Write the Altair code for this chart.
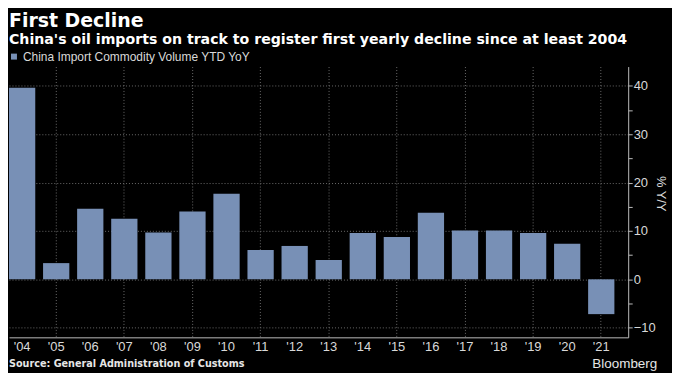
import altair as alt
import pandas as pd

# ---- data ----
years = ["2004", "2005", "2006", "2007", "2008", "2009", "2010", "2011", "2012",
         "2013", "2014", "2015", "2016", "2017", "2018", "2019", "2020", "2021"]
values = [39.6, 3.35, 14.6, 12.5, 9.7, 14.0, 17.7, 6.05, 6.9,
          4.0, 9.6, 8.75, 13.75, 10.1, 10.1, 9.6, 7.35, -7.2]
series_name = "China Import Commodity Volume YTD YoY"
y_ticks = [-10, -5, 0, 5, 10, 15, 20, 25, 30, 35, 40]

title_text = "First Decline"
subtitle_text = "China's oil imports on track to register first yearly decline since at least 2004"
source_text = "Source: General Administration of Customs"
brand_text = "Bloomberg"
y_title = "% Y/Y"

df = pd.DataFrame({"year": years, "value": values, "series": [series_name] * len(years)})

W, H = 622, 272
TOP = 57  # plot top inside the svg
BAR = "#7890b6"
TXT = "#d9d9d9"
GRID = "#6a6a6a"
NARROW = "Liberation Sans Narrow, Liberation Sans, Arial"
BOLD = "DejaVu Sans"

bars = alt.Chart(df).mark_bar(color=BAR).encode(
    x=alt.X(
        "year:N",
        sort=years,
        title=None,
        scale=alt.Scale(paddingInner=0.229, paddingOuter=0.2026, align=0),
        axis=alt.Axis(
            labelExpr="\"'\" + substring(datum.value, 2)",
            labelAngle=0,
            labelFont=NARROW,
            labelFontSize=13,
            labelColor=TXT,
            labelPadding=3,
            ticks=False,
            domainColor="#bbbbbb",
            domainWidth=1,
            grid=True,
            bandPosition=0.5,
            gridColor=GRID,
            gridDash=[1, 2],
            gridOpacity={"condition": {"test": "toNumber(datum.value) % 2 == 1", "value": 1}, "value": 0},
        ),
    ),
    y=alt.Y(
        "value:Q",
        title=None,
        scale=alt.Scale(domain=[-12, 44], nice=False, zero=False),
        axis=alt.Axis(
            orient="right",
            values=y_ticks,
            labelExpr="datum.value % 10 == 0 ? datum.label : ''",
            labelFont=NARROW,
            labelFontSize=13,
            labelColor=TXT,
            labelPadding=1,
            tickColor="#bbbbbb",
            tickSize=4,
            domainColor="#bbbbbb",
            domainWidth=1,
            grid=True,
            gridColor=GRID,
            gridDash=[1, 2],
            gridOpacity={"condition": {"test": "datum.value % 10 == 0", "value": 1}, "value": 0},
        ),
    ),
    fill=alt.Fill(
        "series:N",
        scale=alt.Scale(range=[BAR]),
        legend=alt.Legend(
            orient="none",
            legendX=-1,
            legendY=-16,
            title=None,
            symbolType="square",
            symbolSize=36,
            symbolStrokeWidth=0,
            labelFont=NARROW,
            labelFontSize=12,
            labelColor=TXT,
            labelOffset=3,
            labelLimit=0,
        ),
    ),
)


def label(text, y, size, weight="bold", font=BOLD, x=0, color="#ffffff"):
    return alt.Chart(pd.DataFrame({"t": [text]})).mark_text(
        align="left", baseline="alphabetic", font=font, fontSize=size,
        fontWeight=weight, color=color,
    ).encode(x=alt.value(x), y=alt.value(y - TOP), text="t:N")


title = label(title_text, 17, 19)
subtitle = label(subtitle_text, 34, 14.2)
source = label(source_text, 359, 9.7, color="#e6e6e6")
brand = label(brand_text, 360, 13.5, weight="normal", font="Liberation Sans, Arial", x=586, color="#e6e6e6")

ytitle = alt.Chart(pd.DataFrame({"t": [y_title]})).mark_text(
    align="center", baseline="middle", angle=90, font=NARROW, fontSize=13, color=TXT,
).encode(x=alt.value(W + 33), y=alt.value(H * 0.47), text="t:N")

chart = alt.layer(bars, title, subtitle, source, brand, ytitle).properties(
    width=W, height=H, background="#000000",
    padding={"top": 3, "left": 0, "right": 4, "bottom": 1},
).configure_view(stroke=None)

chart.save("out.html", embed_options={"renderer": "svg", "actions": False})
